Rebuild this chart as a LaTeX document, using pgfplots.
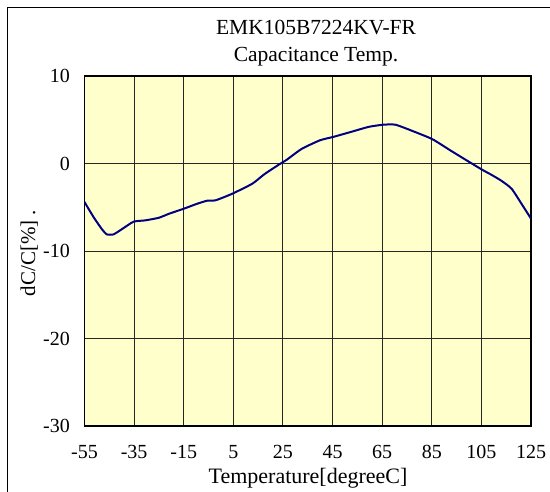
\documentclass[border=0pt]{standalone}
\usepackage{pgfplots}
\pgfplotsset{compat=1.18}
\usepackage{fontspec}
\setmainfont{Liberation Serif}
\definecolor{bgyellow}{RGB}{255,255,204}
\definecolor{curvenavy}{RGB}{0,0,128}
\begin{document}
\begin{tikzpicture}
\useasboundingbox (0,0) rectangle (550pt,-492pt);
\draw[line width=1.3pt,black] (7.3pt,-500pt) -- (7.3pt,-7.3pt) -- (560pt,-7.3pt);
\begin{axis}[
  at={(84.5pt,-426pt)}, anchor=south west,
  scale only axis, width=446.5pt, height=350pt,
  xmin=-55, xmax=125, ymin=-30, ymax=10,
  xtick={-55,-35,...,125}, ytick={-30,-20,...,10},
  grid=major,
  major grid style={black!85, line width=0.9pt},
  axis line style={line width=1.8pt},
  tick style={draw=none},
  axis background/.style={fill=bgyellow},
  /pgf/number format/assume math mode=true,
  ticklabel style={font=\fontsize{20}{24}\selectfont, inner sep=0pt},
  xticklabel style={anchor=base, yshift=-32.3pt},
  yticklabel style={anchor=east, xshift=-14.5pt},
  clip=true,
]
\addplot[curvenavy, line width=2pt, smooth, tension=0.35] coordinates {
(-55,-4.4) (-51.4,-6.1) (-48,-7.5) (-46,-8.1) (-43.3,-8.1) (-39.9,-7.5)
(-35.2,-6.65) (-30.5,-6.5) (-25,-6.2) (-21,-5.75) (-14.8,-5.15) (-9.6,-4.6)
(-5.5,-4.25) (-2.1,-4.2) (4.6,-3.45) (12.7,-2.3) (17.4,-1.25) (23.5,-0.1)
(26.4,0.4) (32.5,1.66) (39.9,2.65) (45.3,3.04) (52.8,3.64) (59.6,4.19)
(65.4,4.43) (70.4,4.43) (77.9,3.64) (85.3,2.77) (92.7,1.46) (99.5,0.28)
(105.3,-0.71) (109.1,-1.3) (113.1,-1.98) (117.2,-2.89) (121.3,-4.66) (125,-6.3)
};
\end{axis}
\node[anchor=base, font=\fontsize{21.5}{26}\selectfont, inner sep=0pt] at (316pt,-35pt) {EMK105B7224KV-FR};
\node[anchor=base, font=\fontsize{21.5}{26}\selectfont, inner sep=0pt] at (316pt,-61.7pt) {Capacitance Temp.};
\node[anchor=base, font=\fontsize{22}{26}\selectfont, inner sep=0pt] at (308pt,-483.3pt) {Temperature[degreeC]};
\node[anchor=base, rotate=90, font=\fontsize{21}{25}\selectfont, inner sep=0pt] at (35pt,-253pt) {dC/C[\%] .};
\end{tikzpicture}
\end{document}
